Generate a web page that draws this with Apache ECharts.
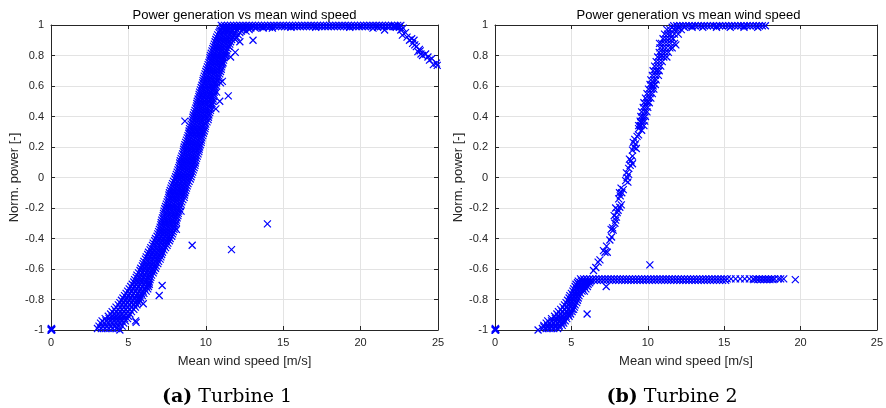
<!DOCTYPE html>
<html><head><meta charset="utf-8">
<script src="https://cdn.jsdelivr.net/npm/echarts@6/dist/echarts.min.js"></script>
<style>html,body{margin:0;padding:0;background:#fff}#c{width:886px;height:408px}</style>
</head><body><div id="c"></div>
<script>
// ---------- axis / text ----------
const xRange = [0, 25];
const xStep = 5;
const yRange = [-1, 1];
const yStep = 0.2;
const titleText = 'Power generation vs mean wind speed';
const xName = 'Mean wind speed [m/s]';
const yName = 'Norm. power [-]';
const captions = [['(a)', 'Turbine 1'], ['(b)', 'Turbine 2']];

// ---------- Turbine 1 : rows [y, x1, x2, ...] ----------
const t1Band = [
 [-0.99, 3.0, 3.25, 3.5, 3.75, 4.0, 4.25],
 [-0.975, 3.1, 3.35, 3.6, 3.85, 4.1, 4.35, 4.6],
 [-0.955, 3.2, 3.45, 3.7, 3.95, 4.2, 4.45, 4.7],
 [-0.94, 3.3, 3.55, 3.8, 4.05, 4.3, 4.55, 4.8],
 [-0.925, 3.5, 3.75, 4.0, 4.25, 4.5, 4.75, 4.95],
 [-0.91, 3.7, 3.95, 4.2, 4.45, 4.7, 5.0],
 [-0.895, 3.85, 4.1, 4.35, 4.6, 4.85, 5.1],
 [-0.88, 3.95, 4.2, 4.45, 4.7, 4.95, 5.2],
 [-0.865, 4.1, 4.35, 4.6, 4.85, 5.1, 5.35],
 [-0.85, 4.2, 4.45, 4.7, 4.95, 5.2, 5.45],
 [-0.835, 4.35, 4.6, 4.85, 5.1, 5.35, 5.55],
 [-0.82, 4.45, 4.7, 4.95, 5.2, 5.45, 5.65],
 [-0.805, 4.55, 4.8, 5.05, 5.3, 5.55, 5.7],
 [-0.79, 4.65, 4.9, 5.15, 5.4, 5.65, 5.8],
 [-0.775, 4.75, 5.0, 5.25, 5.5, 5.75, 5.9],
 [-0.76, 4.85, 5.1, 5.35, 5.6, 5.85, 6.0],
 [-0.745, 4.95, 5.2, 5.45, 5.7, 5.95, 6.15],
 [-0.73, 5.05, 5.3, 5.55, 5.8, 6.05, 6.25],
 [-0.715, 5.15, 5.4, 5.65, 5.9, 6.15, 6.3],
 [-0.70, 5.25, 5.5, 5.75, 6.0, 6.25, 6.35],
 [-0.685, 5.35, 5.6, 5.85, 6.1, 6.35],
 [-0.67, 5.4, 5.65, 5.9, 6.15, 6.4],
 [-0.655, 5.5, 5.75, 6.0, 6.25, 6.45],
 [-0.64, 5.55, 5.8, 6.05, 6.3, 6.5],
 [-0.625, 5.65, 5.9, 6.15, 6.4, 6.6],
 [-0.61, 5.75, 6.0, 6.25, 6.5, 6.65],
 [-0.595, 5.8, 6.05, 6.3, 6.55, 6.75],
 [-0.58, 5.9, 6.15, 6.4, 6.65, 6.8],
 [-0.565, 5.95, 6.2, 6.45, 6.7, 6.9],
 [-0.55, 6.0, 6.25, 6.5, 6.75, 6.95],
 [-0.535, 6.1, 6.35, 6.6, 6.85, 7.05],
 [-0.52, 6.15, 6.4, 6.65, 6.9, 7.1],
 [-0.505, 6.25, 6.5, 6.75, 7.0, 7.15],
 [-0.49, 6.3, 6.55, 6.8, 7.05, 7.2],
 [-0.475, 6.4, 6.65, 6.9, 7.15, 7.3],
 [-0.46, 6.45, 6.7, 6.95, 7.2, 7.4],
 [-0.445, 6.55, 6.8, 7.05, 7.3, 7.5],
 [-0.43, 6.6, 6.85, 7.1, 7.35, 7.55],
 [-0.415, 6.7, 6.95, 7.2, 7.45, 7.65],
 [-0.40, 6.75, 7.0, 7.25, 7.5, 7.7],
 [-0.385, 6.85, 7.1, 7.35, 7.6, 7.8],
 [-0.37, 6.9, 7.15, 7.4, 7.65, 7.85],
 [-0.355, 6.95, 7.2, 7.45, 7.7, 7.9],
 [-0.34, 7.0, 7.25, 7.5, 7.75, 7.95],
 [-0.325, 7.05, 7.3, 7.55, 7.8, 8.0],
 [-0.31, 7.1, 7.35, 7.6, 7.85, 8.05],
 [-0.295, 7.12, 7.37, 7.62, 7.87, 8.1],
 [-0.28, 7.15, 7.4, 7.65, 7.9, 8.1],
 [-0.265, 7.2, 7.45, 7.7, 7.95, 8.15],
 [-0.25, 7.25, 7.5, 7.75, 8.0, 8.2],
 [-0.235, 7.27, 7.52, 7.77, 8.02, 8.22],
 [-0.22, 7.3, 7.55, 7.8, 8.05, 8.25],
 [-0.205, 7.35, 7.6, 7.85, 8.1, 8.3],
 [-0.19, 7.4, 7.65, 7.9, 8.15, 8.35],
 [-0.175, 7.45, 7.7, 7.95, 8.2, 8.4],
 [-0.16, 7.5, 7.75, 8.0, 8.25, 8.45],
 [-0.145, 7.55, 7.8, 8.05, 8.3, 8.52],
 [-0.13, 7.6, 7.85, 8.1, 8.35, 8.6],
 [-0.115, 7.62, 7.87, 8.12, 8.37, 8.62],
 [-0.10, 7.65, 7.9, 8.15, 8.4, 8.65],
 [-0.085, 7.7, 7.95, 8.2, 8.45, 8.7],
 [-0.07, 7.75, 8.0, 8.25, 8.5, 8.75],
 [-0.055, 7.8, 8.05, 8.3, 8.55, 8.8],
 [-0.04, 7.85, 8.1, 8.35, 8.6, 8.85],
 [-0.025, 7.92, 8.17, 8.42, 8.67, 8.92],
 [-0.01, 8.0, 8.25, 8.5, 8.75, 9.0],
 [0.005, 8.05, 8.3, 8.55, 8.8, 9.05],
 [0.02, 8.1, 8.35, 8.6, 8.85, 9.1],
 [0.035, 8.15, 8.4, 8.65, 8.9, 9.15],
 [0.05, 8.2, 8.45, 8.7, 8.95, 9.2],
 [0.065, 8.25, 8.5, 8.75, 9.0, 9.25],
 [0.08, 8.3, 8.55, 8.8, 9.05, 9.3],
 [0.095, 8.32, 8.57, 8.82, 9.07, 9.32],
 [0.11, 8.35, 8.6, 8.85, 9.1, 9.35],
 [0.125, 8.4, 8.65, 8.9, 9.15, 9.4],
 [0.14, 8.45, 8.7, 8.95, 9.2, 9.45],
 [0.155, 8.5, 8.75, 9.0, 9.25, 9.5],
 [0.17, 8.55, 8.8, 9.05, 9.3, 9.55],
 [0.185, 8.57, 8.82, 9.07, 9.32, 9.57],
 [0.20, 8.6, 8.85, 9.1, 9.35, 9.6],
 [0.215, 8.65, 8.9, 9.15, 9.4, 9.65],
 [0.23, 8.7, 8.95, 9.2, 9.45, 9.7],
 [0.245, 8.75, 9.0, 9.25, 9.5, 9.72],
 [0.26, 8.8, 9.05, 9.3, 9.55, 9.75],
 [0.275, 8.85, 9.1, 9.35, 9.6, 9.8],
 [0.29, 8.9, 9.15, 9.4, 9.65, 9.85],
 [0.305, 8.92, 9.17, 9.42, 9.67, 9.9],
 [0.32, 8.95, 9.2, 9.45, 9.7, 9.95],
 [0.335, 9.0, 9.25, 9.5, 9.75, 9.97],
 [0.35, 9.05, 9.3, 9.55, 9.8, 10.0],
 [0.365, 9.1, 9.35, 9.6, 9.85, 10.08],
 [0.38, 9.15, 9.4, 9.65, 9.9, 10.15],
 [0.395, 9.17, 9.42, 9.67, 9.92, 10.17],
 [0.41, 9.2, 9.45, 9.7, 9.95, 10.2],
 [0.425, 9.25, 9.5, 9.75, 10.0, 10.25],
 [0.44, 9.3, 9.55, 9.8, 10.05, 10.3],
 [0.455, 9.35, 9.6, 9.85, 10.1, 10.32],
 [0.47, 9.4, 9.65, 9.9, 10.15, 10.35],
 [0.485, 9.42, 9.67, 9.92, 10.17, 10.4],
 [0.50, 9.45, 9.7, 9.95, 10.2, 10.45],
 [0.515, 9.5, 9.75, 10.0, 10.25, 10.47],
 [0.53, 9.55, 9.8, 10.05, 10.3, 10.5],
 [0.545, 9.57, 9.82, 10.07, 10.32, 10.52],
 [0.56, 9.6, 9.85, 10.1, 10.35, 10.55],
 [0.575, 9.65, 9.9, 10.15, 10.4, 10.58],
 [0.59, 9.7, 9.95, 10.2, 10.45, 10.6],
 [0.605, 9.75, 10.0, 10.25, 10.5, 10.65],
 [0.62, 9.8, 10.05, 10.3, 10.55, 10.7],
 [0.635, 9.82, 10.07, 10.32, 10.57, 10.75],
 [0.65, 9.85, 10.1, 10.35, 10.6, 10.8],
 [0.665, 9.9, 10.15, 10.4, 10.65, 10.85],
 [0.68, 9.95, 10.2, 10.45, 10.7, 10.9],
 [0.695, 10.0, 10.25, 10.5, 10.75, 10.95],
 [0.71, 10.05, 10.3, 10.55, 10.8, 11.0],
 [0.725, 10.1, 10.35, 10.6, 10.85, 11.02],
 [0.74, 10.15, 10.4, 10.65, 10.9, 11.05],
 [0.755, 10.2, 10.45, 10.7, 10.95, 11.1],
 [0.77, 10.25, 10.5, 10.75, 11.0, 11.15],
 [0.785, 10.27, 10.52, 10.77, 11.02, 11.17],
 [0.80, 10.3, 10.55, 10.8, 11.05, 11.2],
 [0.815, 10.35, 10.6, 10.85, 11.1, 11.27],
 [0.83, 10.4, 10.65, 10.9, 11.15, 11.35],
 [0.845, 10.45, 10.7, 10.95, 11.2, 11.42],
 [0.86, 10.5, 10.75, 11.0, 11.25, 11.5],
 [0.875, 10.55, 10.8, 11.05, 11.3, 11.55],
 [0.89, 10.6, 10.85, 11.1, 11.35, 11.6],
 [0.905, 10.65, 10.9, 11.15, 11.4, 11.67, 11.9],
 [0.92, 10.7, 10.95, 11.2, 11.45, 11.75, 12.0],
 [0.935, 10.77, 11.02, 11.27, 11.52, 11.8, 12.1],
 [0.95, 10.85, 11.1, 11.35, 11.6, 11.85, 12.2],
 [0.96, 10.9, 11.15, 11.4, 11.65, 11.95, 12.3, 12.6],
 [0.97, 10.95, 11.2, 11.45, 11.7, 12.0, 12.4, 12.8],
 [0.98, 11.05, 11.3, 11.6, 11.9, 12.2, 12.5, 12.9, 13.2, 13.7, 14.3],
 [0.985, 11.1, 11.5, 11.9, 12.3, 12.7, 13.3, 14.1, 15.5, 17.1, 19.3, 21.1, 22.3, 22.5],
 [0.99, 11.1, 11.3, 11.5, 11.7, 11.9, 12.1, 12.3, 12.5, 12.7, 12.9, 13.1, 13.3, 13.5, 13.7, 13.9,
   14.1, 14.3, 14.5, 14.7, 14.9, 15.1, 15.3, 15.5, 15.7, 15.9, 16.1, 16.3, 16.5, 16.7, 16.9,
   17.1, 17.3, 17.5, 17.7, 17.9, 18.1, 18.3, 18.5, 18.7, 18.9, 19.1, 19.3, 19.5, 19.7, 19.9,
   20.1, 20.3, 20.5, 20.7, 20.9, 21.1, 21.3, 21.5, 21.7, 21.9, 22.1, 22.3, 22.5],
 [0.998, 11.0, 11.2, 11.4, 11.6, 11.8, 12.0, 12.2, 12.4, 12.6, 12.8, 13.0, 13.2, 13.4, 13.6, 13.8,
   14.0, 14.2, 14.4, 14.6, 14.8, 15.0, 15.2, 15.4, 15.6, 15.8, 16.0, 16.2, 16.4, 16.6, 16.8,
   17.0, 17.2, 17.4, 17.6, 17.8, 18.0, 18.2, 18.4, 18.6, 18.8, 19.0, 19.2, 19.4, 19.6, 19.8,
   20.0, 20.2, 20.4, 20.6, 20.8, 21.0, 21.2, 21.4, 21.6, 21.8, 22.0, 22.2, 22.4, 22.6]
];
// Turbine 1 : cut-out tail and stray points [x, y]
const t1Tail = [
 [22.2, 0.99], [22.6, 0.967], [22.7, 0.934], [22.75, 0.98], [22.9, 0.95], [23.0, 0.92],
 [23.16, 0.90], [23.3, 0.91], [23.36, 0.88], [23.5, 0.87], [23.6, 0.858], [23.7, 0.825],
 [23.8, 0.84], [23.9, 0.81], [24.0, 0.80], [24.2, 0.81], [24.35, 0.79], [24.45, 0.77],
 [24.6, 0.78], [24.7, 0.74], [24.9, 0.75], [24.95, 0.735], [23.45, 0.9], [23.85, 0.83]
];
const t1Out = [
 [0, -1], [0.03, -1], [0.05, -0.995], [0.02, -0.99], [0.04, -1.0],
 [4.45, -1.0], [5.46, -0.94], [5.5, -0.95], [5.96, -0.828], [6.99, -0.774], [7.18, -0.708],
 [9.12, -0.444], [11.66, -0.473], [13.98, -0.304], [8.1, -0.34], [8.4, -0.22],
 [8.65, 0.37], [9.6, 0.29], [11.45, 0.535], [11.07, 0.63], [10.95, 0.62],
 [12.2, 0.89], [13.05, 0.90], [11.9, 0.82], [11.6, 0.79], [21.55, 0.967], [20.8, 0.98],
 [10.7, 0.56], [11.1, 0.75], [11.3, 0.80], [11.5, 0.86], [10.9, 0.50], [10.65, 0.45]
];

// ---------- Turbine 2 : rows [y, x1, x2, ...] ----------
const t2Band = [
 [-0.99, 3.1, 3.35, 3.6, 3.85, 4.1],
 [-0.98, 3.2, 3.45, 3.7, 3.95, 4.2],
 [-0.97, 3.2, 3.45, 3.7, 3.95, 4.2, 4.4],
 [-0.955, 3.35, 3.6, 3.85, 4.1, 4.35, 4.5],
 [-0.94, 3.45, 3.7, 3.95, 4.2, 4.45, 4.6],
 [-0.925, 3.7, 3.95, 4.2, 4.45, 4.7],
 [-0.91, 3.9, 4.15, 4.4, 4.65, 4.85],
 [-0.895, 4.05, 4.3, 4.55, 4.8, 4.95],
 [-0.88, 4.15, 4.4, 4.65, 4.9, 5.05],
 [-0.865, 4.3, 4.55, 4.8, 5.05, 5.15],
 [-0.85, 4.45, 4.7, 4.95, 5.2],
 [-0.835, 4.55, 4.8, 5.0, 5.25],
 [-0.82, 4.65, 4.9, 5.1, 5.35],
 [-0.805, 4.75, 4.95, 5.15, 5.4],
 [-0.79, 4.85, 5.05, 5.25, 5.45],
 [-0.775, 4.9, 5.1, 5.3, 5.5],
 [-0.76, 5.0, 5.2, 5.4, 5.6],
 [-0.745, 5.1, 5.3, 5.5, 5.7, 5.85],
 [-0.73, 5.15, 5.35, 5.55, 5.75, 5.95],
 [-0.715, 5.25, 5.45, 5.65, 5.85, 6.05],
 [-0.70, 5.3, 5.5, 5.7, 5.9, 6.1],
 [-0.69, 5.4, 5.6, 5.8, 6.0, 6.2],
 [-0.68, 5.45, 5.65, 5.85, 6.05, 6.25],
 [-0.675, 5.7, 5.9, 6.1, 6.3, 6.5, 6.7, 6.9, 7.1, 7.3, 7.5, 7.7, 7.9, 8.1, 8.3, 8.5, 8.7, 8.9,
   9.1, 9.3, 9.5, 9.7, 9.9, 10.1, 10.3, 10.5, 10.7, 10.9, 11.1, 11.3, 11.5, 11.7, 11.9, 12.1,
   12.3, 12.5, 12.7, 12.9, 13.1, 13.3, 13.5, 13.7, 13.9, 14.1, 14.3, 14.5, 14.7, 14.9, 15.1],
 [-0.665, 5.6, 5.8, 6.0, 6.2, 6.4, 6.6, 6.8, 7.0, 7.2, 7.4, 7.6, 7.8, 8.0, 8.2, 8.4, 8.6, 8.8,
   9.0, 9.2, 9.4, 9.6, 9.8, 10.0, 10.2, 10.4, 10.6, 10.8, 11.0, 11.2, 11.4, 11.6, 11.8, 12.0,
   12.2, 12.4, 12.6, 12.8, 13.0, 13.2, 13.4, 13.6, 13.8, 14.0, 14.2, 14.4, 14.6, 14.8, 15.0,
   15.2, 15.45, 15.75, 16.05, 16.35, 16.65, 16.9, 17.1, 17.3, 17.5, 17.7, 17.9, 18.1, 18.3,
   18.55, 18.7, 18.9],
 [-0.67, 16.95, 17.2, 17.4, 17.6, 17.8, 18.0, 18.2],
 [0.34, 9.4, 9.55, 9.75],
 [0.37, 9.5, 9.65, 9.8],
 [0.40, 9.55, 9.7, 9.85],
 [0.43, 9.6, 9.8, 9.95],
 [0.46, 9.7, 9.85, 10.0],
 [0.49, 9.75, 9.95, 10.1],
 [0.52, 9.85, 10.05, 10.2],
 [0.55, 9.95, 10.15, 10.3],
 [0.58, 10.05, 10.25, 10.4],
 [0.61, 10.15, 10.3, 10.5],
 [0.64, 10.2, 10.4, 10.55],
 [0.67, 10.3, 10.5, 10.7],
 [0.70, 10.35, 10.55, 10.75],
 [0.73, 10.45, 10.65, 10.85],
 [0.76, 10.55, 10.75, 10.95],
 [0.79, 10.65, 10.85, 11.05, 11.25],
 [0.82, 10.75, 10.95, 11.15, 11.35],
 [0.85, 10.8, 11.0, 11.2, 11.45],
 [0.88, 10.9, 11.1, 11.3, 11.5, 11.75],
 [0.91, 11.0, 11.2, 11.4, 11.65],
 [0.94, 11.1, 11.3, 11.5, 11.75, 12.0],
 [0.97, 11.25, 11.45, 11.7, 11.95, 12.2],
 [0.985, 11.6, 12.0, 12.4, 12.9, 13.6, 14.5, 15.4, 16.3, 17.2],
 [0.995, 11.7, 11.9, 12.1, 12.3, 12.5, 12.7, 12.9, 13.1, 13.3, 13.5, 13.7, 13.9, 14.1, 14.3,
   14.5, 14.7, 14.9, 15.1, 15.3, 15.5, 15.7, 15.9, 16.1, 16.3, 16.5, 16.7, 16.9, 17.1, 17.3,
   17.5, 17.7]
];
// Turbine 2 : sparse rising part and stray points [x, y]
const t2Rise = [
 [6.45, -0.61], [6.6, -0.59], [6.75, -0.555], [6.87, -0.54], [7.1, -0.48], [7.2, -0.49],
 [7.3, -0.45], [7.35, -0.49], [7.52, -0.41], [7.63, -0.39], [7.6, -0.34], [7.74, -0.345],
 [7.7, -0.33], [7.85, -0.30], [7.9, -0.28], [7.8, -0.25], [7.95, -0.26], [8.0, -0.23],
 [8.06, -0.215], [7.9, -0.20], [8.17, -0.195], [8.27, -0.18],
 [8.1, -0.14], [8.2, -0.12], [8.15, -0.10], [8.3, -0.10], [8.4, -0.08], [8.25, -0.07],
 [8.55, -0.02], [8.7, -0.03], [8.65, 0.0], [8.75, 0.02], [8.6, 0.03],
 [8.75, 0.06], [8.85, 0.08], [9.0, 0.09], [8.9, 0.11], [8.8, 0.12], [9.0, 0.14],
 [9.0, 0.18], [9.25, 0.19], [9.1, 0.20], [9.2, 0.22], [9.05, 0.23], [9.15, 0.25],
 [9.3, 0.27], [9.4, 0.28], [9.6, 0.31], [9.4, 0.32], [9.5, 0.34], [9.55, 0.36],
 [10.0, 0.5], [10.35, 0.6], [10.6, 0.7], [10.9, 0.8], [11.55, 0.92], [11.6, 0.85]
];
const t2Out = [
 [0, -1], [0.03, -1], [0.05, -0.995], [0.02, -0.99], [0.04, -1.0],
 [2.82, -1.0], [6.03, -0.895], [7.28, -0.715], [10.14, -0.573], [19.66, -0.67],
 [10.77, 0.88], [11.84, 0.87]
];

// ---------- build data ----------
function rowsToPts(rows) {
  const out = [];
  rows.forEach(r => { for (let i = 1; i < r.length; i++) out.push([r[i], r[0]]); });
  return out;
}
const t1Data = rowsToPts(t1Band).concat(t1Tail, t1Out);
const t2Data = rowsToPts(t2Band).concat(t2Rise, t2Out);

const AX = '#262626';
const GRIDC = '#e3e3e3';
const FONT = '"Liberation Sans", Arial, Helvetica, sans-serif';
const plots = [{left: 51, top: 25, width: 387, height: 305}, {left: 495, top: 25, width: 387, height: 305}];

const grids = plots.map(p => ({left: p.left, top: p.top, width: p.width, height: p.height, containLabel: false}));
const xAxes = [], yAxes = [];
plots.forEach((p, i) => {
  xAxes.push({
    gridIndex: i, type: 'value', min: xRange[0], max: xRange[1], interval: xStep, position: 'bottom',
    name: xName, nameLocation: 'middle', nameGap: 25,
    nameTextStyle: {fontFamily: FONT, fontSize: 13, color: AX},
    axisLine: {show: true, onZero: false, lineStyle: {color: AX, width: 1}},
    axisTick: {show: true, inside: true, length: 4, lineStyle: {color: AX}},
    axisLabel: {show: true, margin: 7, fontFamily: FONT, fontSize: 11, color: AX},
    splitLine: {show: true, lineStyle: {color: GRIDC, width: 1}}
  });
  xAxes.push({
    gridIndex: i, type: 'value', min: xRange[0], max: xRange[1], interval: xStep, position: 'top',
    axisLine: {show: true, onZero: false, lineStyle: {color: AX, width: 1}},
    axisTick: {show: true, inside: true, length: 4, lineStyle: {color: AX}},
    axisLabel: {show: false}, splitLine: {show: false}
  });
  yAxes.push({
    gridIndex: i, type: 'value', min: yRange[0], max: yRange[1], interval: yStep, position: 'left',
    name: yName, nameLocation: 'middle', nameGap: 29, nameRotate: 90,
    nameTextStyle: {fontFamily: FONT, fontSize: 13, color: AX},
    axisLine: {show: true, onZero: false, lineStyle: {color: AX, width: 1}},
    axisTick: {show: true, inside: true, length: 4, lineStyle: {color: AX}},
    axisLabel: {show: true, margin: 7, fontFamily: FONT, fontSize: 11, color: AX},
    splitLine: {show: true, lineStyle: {color: GRIDC, width: 1}}
  });
  yAxes.push({
    gridIndex: i, type: 'value', min: yRange[0], max: yRange[1], interval: yStep, position: 'right',
    axisLine: {show: true, onZero: false, lineStyle: {color: AX, width: 1}},
    axisTick: {show: true, inside: true, length: 4, lineStyle: {color: AX}},
    axisLabel: {show: false}, splitLine: {show: false}
  });
});

const marker = 'path://M0 0L10 10M10 0L0 10';
function sc(data, i) {
  return {
    type: 'scatter', xAxisIndex: i * 2, yAxisIndex: i * 2, data: data,
    symbol: marker, symbolSize: 7, clip: false, silent: true,
    itemStyle: {color: '#0000ff', borderColor: '#0000ff', borderWidth: 1.2, opacity: 1},
    emphasis: {disabled: true}
  };
}

const graphics = [];
plots.forEach((p, i) => {
  graphics.push({type: 'text', x: p.left + p.width / 2, y: 15,
    style: {text: titleText, fontFamily: FONT, fontSize: 13, fill: '#000', align: 'center', verticalAlign: 'middle'}});
});
const capX = [227, 672];
captions.forEach((c, i) => {
  graphics.push({type: 'text', x: capX[i], y: 397,
    style: {text: '{b|' + c[0] + '} ' + c[1], fontFamily: '"DejaVu Serif", serif', fontSize: 19, fill: '#000',
      align: 'center', verticalAlign: 'middle',
      rich: {b: {fontWeight: 'bold', fontFamily: '"DejaVu Serif", serif', fontSize: 19, fill: '#000'}}}});
});

const chart = echarts.init(document.getElementById('c'), null, {renderer: 'canvas'});
chart.setOption({
  animation: false,
  backgroundColor: '#fff',
  grid: grids, xAxis: xAxes, yAxis: yAxes,
  series: [sc(t1Data, 0), sc(t2Data, 1)],
  graphic: graphics
});
</script></body></html>
